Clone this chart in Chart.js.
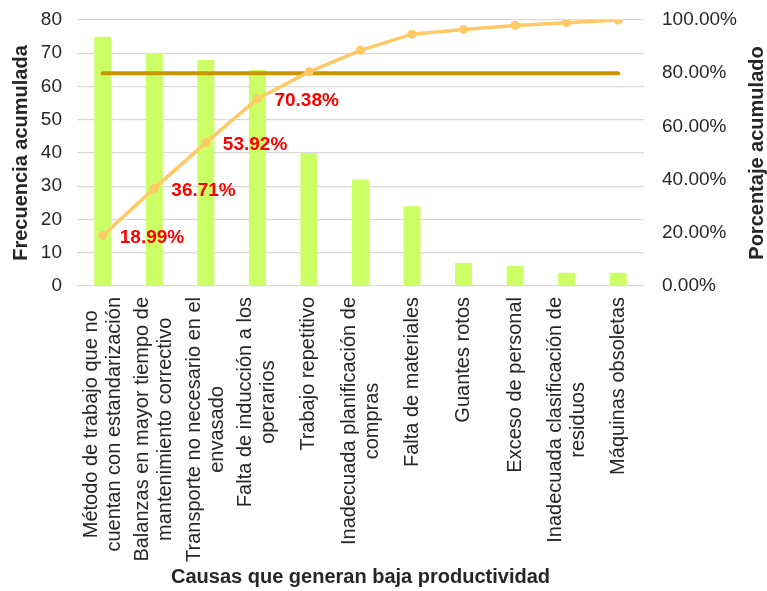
<!DOCTYPE html>
<html>
<head>
<meta charset="utf-8">
<script src="https://cdn.jsdelivr.net/npm/chart.js@4.4.1/dist/chart.umd.min.js"></script>
<style>
  html, body { margin: 0; padding: 0; background: #ffffff; }
  #wrap { width: 767px; height: 591px; position: relative; }
</style>
</head>
<body>
<div id="wrap"><canvas id="c" width="767" height="591"></canvas></div>
<script>
const categories = [
  ["Método de trabajo que no", "cuentan con estandarización"],
  ["Balanzas en mayor tiempo de", "mantenimiento correctivo"],
  ["Transporte no necesario en el", "envasado"],
  ["Falta de inducción a los", "operarios"],
  "Trabajo repetitivo",
  ["Inadecuada planificación de", "compras"],
  "Falta de materiales",
  "Guantes rotos",
  "Exceso de personal",
  ["Inadecuada clasificación de", "residuos"],
  "Máquinas obsoletas"
];
const frequencies = [75, 70, 68, 65, 40, 32, 24, 7, 6, 4, 4];
const cumulativePct = [18.99, 36.71, 53.92, 70.38, 80.51, 88.61, 94.68, 96.46, 97.97, 98.99, 100.00];
const targetPct = [80, 80, 80, 80, 80, 80, 80, 80, 80, 80, 80];
const pctLabels = ["18.99%", "36.71%", "53.92%", "70.38%", "", "", "", "", "", "", ""];
const leftTicks = { min: 0, max: 80, step: 10 };
const rightTicks = { min: 0, max: 100, step: 20 };

const FONT = "'Liberation Sans', Arial, sans-serif";
const TXT = '#262626';

const labelPlugin = {
  id: 'pctLabels',
  afterDatasetsDraw(chart) {
    const meta = chart.getDatasetMeta(1);
    const ctx = chart.ctx;
    ctx.save();
    ctx.font = "bold 19px " + FONT;
    ctx.fillStyle = '#FF0000';
    ctx.textAlign = 'left';
    ctx.textBaseline = 'middle';
    meta.data.forEach((pt, i) => {
      if (pctLabels[i]) ctx.fillText(pctLabels[i], pt.x + 17, pt.y + 2);
    });
    ctx.restore();
  }
};

const xLabelPlugin = {
  id: 'xLabels',
  afterDraw(chart) {
    const s = chart.scales.x;
    const ctx = chart.ctx;
    const lineH = 23;
    ctx.save();
    ctx.font = "20px " + FONT;
    ctx.fillStyle = TXT;
    ctx.textAlign = 'center';
    ctx.textBaseline = 'middle';
    s.ticks.forEach((t, i) => {
      const lines = [].concat(categories[i]);
      const x0 = s.getPixelForTick(i);
      const maxW = Math.max(...lines.map(l => ctx.measureText(l).width));
      const cy = s.top + 11 + maxW / 2;
      lines.forEach((l, j) => {
        const x = x0 + (j - (lines.length - 1) / 2) * lineH;
        ctx.save();
        ctx.translate(x, cy);
        ctx.rotate(-Math.PI / 2);
        ctx.fillText(l, 0, 0);
        ctx.restore();
      });
    });
    ctx.restore();
  }
};

const rightTitlePlugin = {
  id: 'rightTitle',
  afterDraw(chart) {
    const s = chart.scales.y1;
    const ctx = chart.ctx;
    ctx.save();
    ctx.font = "bold 20px " + FONT;
    ctx.fillStyle = TXT;
    ctx.textAlign = 'center';
    ctx.textBaseline = 'middle';
    ctx.translate(s.right - 10, (s.top + s.bottom) / 2);
    ctx.rotate(-Math.PI / 2);
    ctx.fillText("Porcentaje acumulado", 0, 0);
    ctx.restore();
  }
};

new Chart(document.getElementById('c'), {
  data: {
    labels: categories,
    datasets: [
      {
        type: 'bar',
        data: frequencies,
        yAxisID: 'y',
        backgroundColor: '#CCFF66',
        barPercentage: 0.33,
        categoryPercentage: 1.0,
        order: 3
      },
      {
        type: 'line',
        data: cumulativePct,
        yAxisID: 'y1',
        borderColor: '#FFC966',
        backgroundColor: '#FFC966',
        borderWidth: 3.5,
        pointRadius: 4.5,
        pointBorderWidth: 0,
        tension: 0,
        order: 1
      },
      {
        type: 'line',
        data: targetPct,
        yAxisID: 'y1',
        borderColor: '#C89700',
        borderWidth: 4,
        pointRadius: 0,
        borderCapStyle: 'round',
        tension: 0,
        order: 2
      }
    ]
  },
  options: {
    responsive: false,
    animation: false,
    layout: { padding: { top: 20, left: 0, right: 0, bottom: 0 } },
    plugins: { legend: { display: false }, tooltip: { enabled: false } },
    scales: {
      x: {
        grid: { display: false, drawTicks: false },
        border: { display: false },
        ticks: {
          autoSkip: false, maxRotation: 90, minRotation: 90, padding: 10,
          color: 'rgba(0,0,0,0)', font: { family: FONT, size: 20 }
        },
        title: {
          display: true, text: 'Causas que generan baja productividad', color: TXT,
          font: { family: FONT, size: 20, weight: 'bold' }, padding: { top: 0, bottom: 2 }
        },
        afterFit(s) { s.height = 305; s.paddingLeft = 0; s.paddingRight = 0; }
      },
      y: {
        position: 'left',
        min: leftTicks.min, max: leftTicks.max,
        grid: { color: '#D9D9D9', lineWidth: 1.3, drawTicks: false },
        border: { display: false },
        ticks: { stepSize: leftTicks.step, padding: 15, color: TXT, font: { family: FONT, size: 19 } },
        title: {
          display: true, text: 'Frecuencia acumulada', color: TXT,
          font: { family: FONT, size: 20, weight: 'bold' }, padding: { top: 9, bottom: 0 }
        },
        afterFit(s) { s.width = 77; s.paddingTop = 0; s.paddingBottom = 0; }
      },
      y1: {
        position: 'right',
        min: rightTicks.min, max: rightTicks.max,
        grid: { display: false },
        border: { display: false },
        ticks: {
          stepSize: rightTicks.step, padding: 10, color: TXT, font: { family: FONT, size: 19 },
          callback: v => v.toFixed(2) + '%'
        },
        afterFit(s) { s.width = 123; s.paddingTop = 0; s.paddingBottom = 0; }
      }
    }
  },
  plugins: [labelPlugin, xLabelPlugin, rightTitlePlugin]
});
</script>
</body>
</html>
